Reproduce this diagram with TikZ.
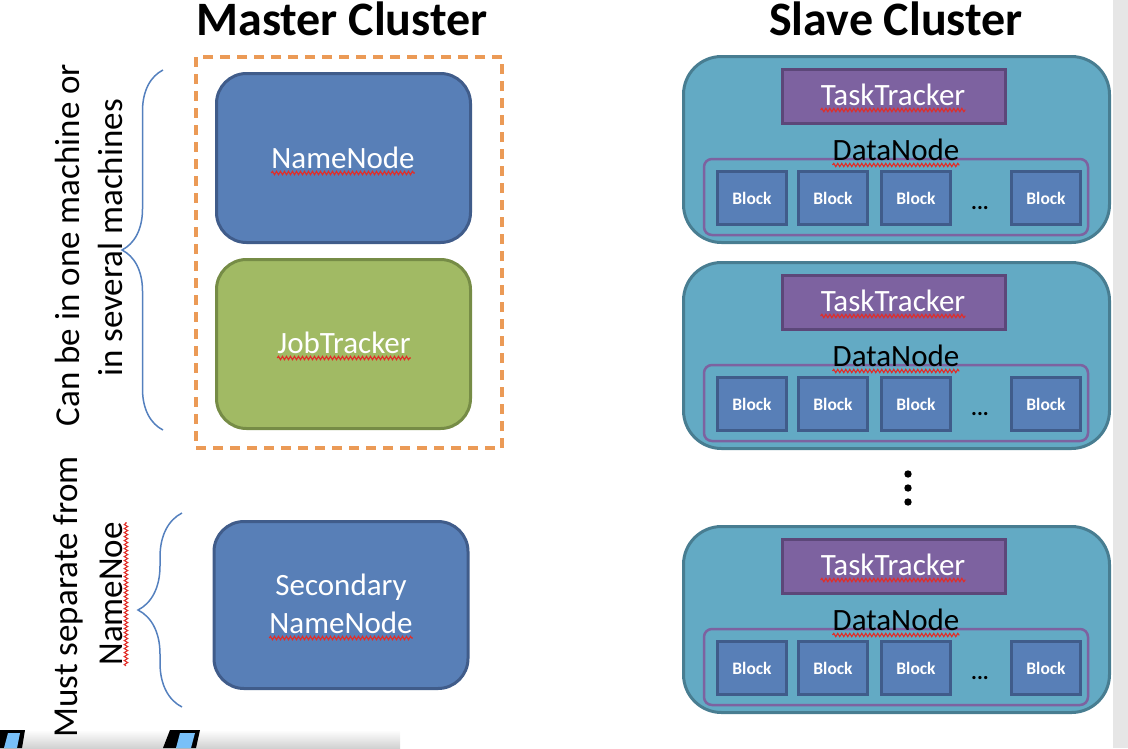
\documentclass[tikz,border=0pt]{standalone}
\usepackage{fontspec}
\setmainfont{Carlito}
\usepackage{tikz}
\usetikzlibrary{positioning}
\usetikzlibrary{decorations.pathreplacing}
\usetikzlibrary{decorations.pathmorphing}
\definecolor{nnFill}{RGB}{88,127,183}
\definecolor{nnDraw}{RGB}{64,92,138}
\definecolor{jtFill}{RGB}{161,186,100}
\definecolor{jtDraw}{RGB}{118,140,70}
\definecolor{slFill}{RGB}{99,170,196}
\definecolor{slDraw}{RGB}{72,125,145}
\definecolor{ttFill}{RGB}{125,98,160}
\definecolor{ttDraw}{RGB}{92,71,121}
\definecolor{orangeDash}{RGB}{235,154,86}
\definecolor{braceBlue}{RGB}{84,128,190}
\definecolor{spellRed}{RGB}{225,45,40}
\definecolor{stripGray}{RGB}{230,230,230}
\definecolor{logoBlue}{RGB}{120,192,248}
\tikzstyle{title} = [anchor = base, inner sep = 0, font = \fontsize{48}{50}\selectfont\bfseries]
\tikzstyle{side} = [rotate = 90, inner sep = 0, font = \fontsize{35}{38}\selectfont]
\tikzstyle{lbl} = [anchor = base, inner sep = 0, font = \fontsize{31}{34}\selectfont]
\tikzstyle{spell} = [spellRed, line width = 1.1pt, decoration = {snake, segment length = 4pt, amplitude = 1.7pt}, decorate]
\tikzstyle{masterbox} = [rounded corners = 30pt, line width = 3pt, minimum width = 254pt, minimum height = 169pt]
\tikzstyle{bracket} = [braceBlue, line width = 1.5pt, decorate]

\begin{document}
\begin{tikzpicture}[x = 1pt, y = -1pt]
		% Рамка
		\useasboundingbox (0, 0) rectangle (1128, 748);
		\fill[stripGray] (1113, 0) rectangle (1128, 748);
		% Обрезанный логотип
		\shade[top color = white, bottom color = black!18] (0, 730) rectangle (400, 748);
		\fill (0, 730) -- (25, 730) -- (22, 748) -- (0, 748) -- cycle;
		\fill[logoBlue] (8, 733) -- (20, 733) -- (17, 748) -- (4, 748) -- cycle;
		\fill (170, 730) -- (200, 730) -- (196, 748) -- (163, 748) -- cycle;
		\fill[logoBlue] (180, 733) -- (195, 733) -- (191, 748) -- (176, 748) -- cycle;
		% Стили
		\tikzstyle{slave} = [fill = slFill, draw = slDraw, line width = 3pt, rounded corners = 38pt, minimum width = 426pt, minimum height = 186pt]
		\tikzstyle{tracker} = [fill = ttFill, draw = ttDraw, line width = 3pt, minimum width = 223pt, minimum height = 54pt]
		\tikzstyle{datanode} = [draw = ttFill, line width = 2.5pt, rounded corners = 8pt, minimum width = 384pt, minimum height = 76pt]
		\tikzstyle{block} = [fill = nnFill, draw = nnDraw, line width = 3pt, minimum width = 69pt, minimum height = 53pt, text = white, font = \fontsize{17.5}{18}\selectfont\bfseries]
		% Заголовки
		\node[title] (master) at (342, 35) {Master Cluster};
		\node[title] (slaveTitle) at (896, 35) {Slave Cluster};
		% Мастер
		\draw[orangeDash, line width = 3.5pt, dash pattern = on 10pt off 7pt] (196, 57) rectangle (502, 448);
		\node[masterbox, fill = nnFill, draw = nnDraw] (nameNode) at (343.5, 158) {};
		\node[masterbox, fill = jtFill, draw = jtDraw] (jobTracker) at (343.5, 344) {};
		\node[masterbox, fill = nnFill, draw = nnDraw, minimum height = 167pt] (secNode) at (341, 605) {};
		\node[lbl, text = white] (nnText) at (343, 168) {NameNode};
		\node[lbl, text = white] (jtText) at (344, 353) {JobTracker};
		\node[lbl, text = white] (secText) at (341, 595) {Secondary};
		\node[lbl, text = white] (snnText) at (341, 633) {NameNode};
		\foreach \n in {nnText, jtText, snnText}
			\draw[spell] ([yshift = -5pt]\n.base west) -- ([yshift = -5pt]\n.base east);
		% Скобки и подписи
		\coordinate (bTop) at (163, 70);
		\coordinate (bBot) at (163, 430);
		\draw[bracket, decoration = {brace, amplitude = 41pt}] (bBot) -- (bTop);
		\coordinate (sTop) at (182, 513);
		\coordinate (sBot) at (182, 707);
		\draw[bracket, decoration = {brace, amplitude = 44pt}] (sBot) -- (sTop);
		\node[side] (canBe) at (67, 245) {Can be in one machine or};
		\node[side] (several) at (110, 238) {in several machines};
		\node[side] (mustSep) at (68, 597) {Must separate from};
		\node[side, anchor = base] (nameNoe) at (122, 594) {NameNoe};
		\draw[spell] ([xshift = 4pt]nameNoe.base west) -- ([xshift = 4pt]nameNoe.base east);
		% Подчинённые узлы
		\foreach \t [count = \i] in {55, 261, 525} {
			\node[slave] (slave\i) at (896.5, \t+94.5) {};
			\node[tracker] (tt\i) at (894, \t+41.5) {};
			\node[lbl, text = white] (ttText\i) at (893, \t+50) {TaskTracker};
			\draw[spell] ([yshift = -5pt]ttText\i.base west) -- ([yshift = -5pt]ttText\i.base east);
			\node[datanode] (dn\i) at (896, \t+142) {};
			\node[lbl] (dnText\i) at (896, \t+105) {DataNode};
			\draw[spell] ([yshift = -5pt]dnText\i.base west) -- ([yshift = -5pt]dnText\i.base east);
			\foreach \bx [count = \j] in {752, 833, 916, 1046}
				\node[block] (block\i\j) at (\bx, \t+143) {Block};
			\node[anchor = base, inner sep = 0, font = \fontsize{22}{22}\selectfont\bfseries] (dots\i) at (980, \t+154) {...};
		}
		% Многоточие
		\foreach \d in {474, 488, 502}
			\fill (908, \d) circle (3.7pt);
	\end{tikzpicture}
\end{document}
